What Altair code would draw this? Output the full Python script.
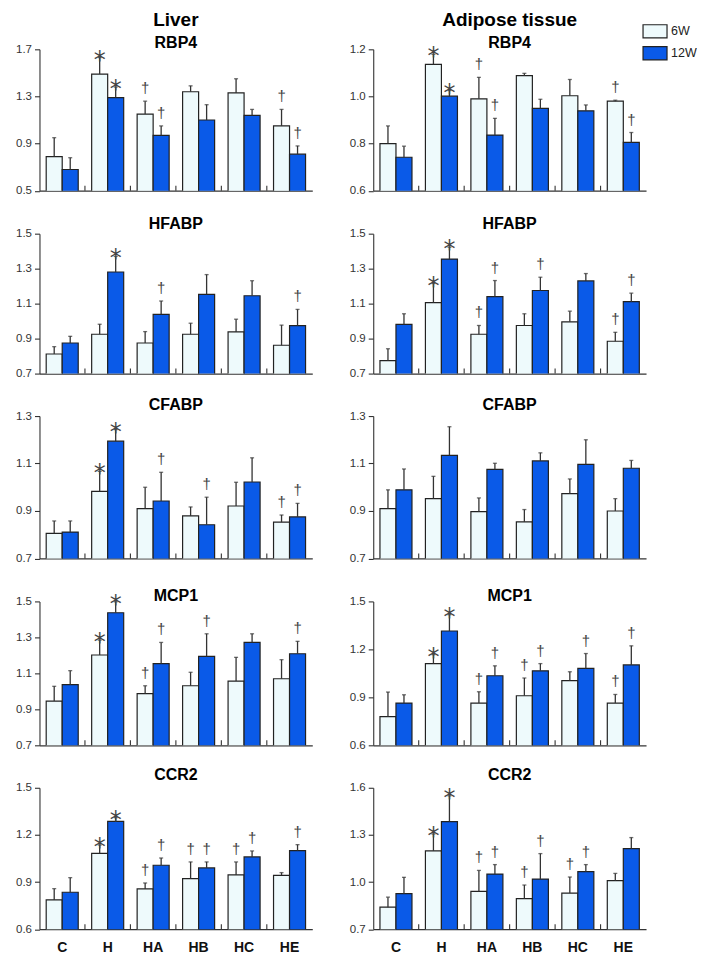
import altair as alt
import pandas as pd

FONT = "Liberation Sans"
groups = ["C", "H", "HA", "HB", "HC", "HE"]
weeks = ["6W", "12W"]
tissues = ["Liver", "Adipose tissue"]
fill_colors = ["#eefafc", "#0a5ae8"]

# ---- Liver ----
liver_rbp4_m6 = [0.79, 1.49, 1.15, 1.34, 1.33, 1.05]
liver_rbp4_e6 = [0.16, 0.14, 0.11, 0.05, 0.12, 0.14]
liver_rbp4_s6 = ["", "*", "†", "", "", "†"]
liver_rbp4_m12 = [0.68, 1.29, 0.97, 1.10, 1.14, 0.81]
liver_rbp4_e12 = [0.10, 0.09, 0.08, 0.13, 0.05, 0.07]
liver_rbp4_s12 = ["", "*", "†", "", "", "†"]

liver_hfabp_m6 = [0.812, 0.925, 0.875, 0.925, 0.938, 0.862]
liver_hfabp_e6 = [0.042, 0.057, 0.065, 0.063, 0.073, 0.115]
liver_hfabp_s6 = ["", "", "", "", "", ""]
liver_hfabp_m12 = [0.875, 1.281, 1.039, 1.153, 1.145, 0.974]
liver_hfabp_e12 = [0.038, 0.089, 0.076, 0.113, 0.086, 0.093]
liver_hfabp_s12 = ["", "*", "†", "", "", "†"]

liver_cfabp_m6 = [0.806, 0.983, 0.910, 0.879, 0.921, 0.853]
liver_cfabp_e6 = [0.052, 0.084, 0.090, 0.038, 0.100, 0.030]
liver_cfabp_s6 = ["", "*", "", "", "", "†"]
liver_cfabp_m12 = [0.811, 1.194, 0.942, 0.842, 1.022, 0.875]
liver_cfabp_e12 = [0.047, 0.049, 0.121, 0.116, 0.102, 0.057]
liver_cfabp_s12 = ["", "*", "†", "†", "", "†"]

liver_mcp1_m6 = [0.946, 1.202, 0.987, 1.031, 1.057, 1.070]
liver_mcp1_e6 = [0.082, 0.083, 0.044, 0.075, 0.132, 0.106]
liver_mcp1_s6 = ["", "*", "†", "", "", ""]
liver_mcp1_m12 = [1.037, 1.437, 1.154, 1.194, 1.272, 1.209]
liver_mcp1_e12 = [0.078, 0.061, 0.118, 0.126, 0.048, 0.069]
liver_mcp1_s12 = ["", "*", "†", "†", "", "†"]

liver_ccr2_m6 = [0.786, 1.083, 0.856, 0.922, 0.945, 0.943]
liver_ccr2_e6 = [0.072, 0.053, 0.038, 0.106, 0.083, 0.017]
liver_ccr2_s6 = ["", "*", "†", "†", "†", ""]
liver_ccr2_m12 = [0.835, 1.286, 1.007, 0.990, 1.060, 1.100]
liver_ccr2_e12 = [0.093, 0.024, 0.046, 0.038, 0.038, 0.038]
liver_ccr2_s12 = ["", "*", "†", "†", "†", "†"]

# ---- Adipose tissue ----
adip_rbp4_m6 = [0.800, 1.136, 0.990, 1.088, 1.003, 0.980]
adip_rbp4_e6 = [0.075, 0.043, 0.091, 0.010, 0.069, 0.004]
adip_rbp4_s6 = ["", "*", "†", "", "", "†"]
adip_rbp4_m12 = [0.742, 1.001, 0.836, 0.949, 0.939, 0.805]
adip_rbp4_e12 = [0.047, 0.024, 0.071, 0.039, 0.025, 0.042]
adip_rbp4_s12 = ["", "*", "†", "", "", "†"]

adip_hfabp_m6 = [0.774, 1.106, 0.925, 0.975, 0.996, 0.885]
adip_hfabp_e6 = [0.068, 0.109, 0.050, 0.067, 0.061, 0.051]
adip_hfabp_s6 = ["", "*", "†", "", "", "†"]
adip_hfabp_m12 = [0.981, 1.355, 1.140, 1.175, 1.230, 1.111]
adip_hfabp_e12 = [0.061, 0.068, 0.092, 0.076, 0.042, 0.049]
adip_hfabp_s12 = ["", "*", "†", "†", "", "†"]

adip_cfabp_m6 = [0.910, 0.952, 0.897, 0.854, 0.973, 0.900]
adip_cfabp_e6 = [0.079, 0.094, 0.058, 0.052, 0.062, 0.052]
adip_cfabp_s6 = ["", "", "", "", "", ""]
adip_cfabp_m12 = [0.989, 1.134, 1.075, 1.111, 1.096, 1.080]
adip_cfabp_e12 = [0.088, 0.121, 0.026, 0.034, 0.104, 0.033]
adip_cfabp_s12 = ["", "", "", "", "", ""]

adip_mcp1_m6 = [0.779, 1.111, 0.864, 0.910, 1.004, 0.864]
adip_mcp1_e6 = [0.154, 0.056, 0.071, 0.111, 0.056, 0.054]
adip_mcp1_s6 = ["", "*", "†", "†", "", "†"]
adip_mcp1_m12 = [0.864, 1.315, 1.035, 1.066, 1.081, 1.103]
adip_mcp1_e12 = [0.052, 0.102, 0.062, 0.045, 0.093, 0.119]
adip_mcp1_s12 = ["", "*", "†", "†", "†", "†"]

adip_ccr2_m6 = [0.840, 1.198, 0.940, 0.894, 0.930, 1.009]
adip_ccr2_e6 = [0.064, 0.108, 0.134, 0.087, 0.102, 0.046]
adip_ccr2_s6 = ["", "*", "†", "†", "†", ""]
adip_ccr2_m12 = [0.926, 1.385, 1.051, 1.019, 1.066, 1.213]
adip_ccr2_e12 = [0.104, 0.164, 0.060, 0.162, 0.045, 0.070]
adip_ccr2_s12 = ["", "*", "†", "†", "†", ""]

# axis domains / ticks
liver_domains = {
    "RBP4": ([0.5, 1.7], [0.5, 0.9, 1.3, 1.7]),
    "HFABP": ([0.7, 1.5], [0.7, 0.9, 1.1, 1.3, 1.5]),
    "CFABP": ([0.7, 1.3], [0.7, 0.9, 1.1, 1.3]),
    "MCP1": ([0.7, 1.5], [0.7, 0.9, 1.1, 1.3, 1.5]),
    "CCR2": ([0.6, 1.5], [0.6, 0.9, 1.2, 1.5]),
}
adip_domains = {
    "RBP4": ([0.6, 1.2], [0.6, 0.8, 1.0, 1.2]),
    "HFABP": ([0.7, 1.5], [0.7, 0.9, 1.1, 1.3, 1.5]),
    "CFABP": ([0.7, 1.3], [0.7, 0.9, 1.1, 1.3]),
    "MCP1": ([0.6, 1.5], [0.6, 0.9, 1.2, 1.5]),
    "CCR2": ([0.7, 1.6], [0.7, 1.0, 1.3, 1.6]),
}

genes = ["RBP4", "HFABP", "CFABP", "MCP1", "CCR2"]
liver_data = {
    "RBP4": (liver_rbp4_m6, liver_rbp4_e6, liver_rbp4_s6, liver_rbp4_m12, liver_rbp4_e12, liver_rbp4_s12),
    "HFABP": (liver_hfabp_m6, liver_hfabp_e6, liver_hfabp_s6, liver_hfabp_m12, liver_hfabp_e12, liver_hfabp_s12),
    "CFABP": (liver_cfabp_m6, liver_cfabp_e6, liver_cfabp_s6, liver_cfabp_m12, liver_cfabp_e12, liver_cfabp_s12),
    "MCP1": (liver_mcp1_m6, liver_mcp1_e6, liver_mcp1_s6, liver_mcp1_m12, liver_mcp1_e12, liver_mcp1_s12),
    "CCR2": (liver_ccr2_m6, liver_ccr2_e6, liver_ccr2_s6, liver_ccr2_m12, liver_ccr2_e12, liver_ccr2_s12),
}
adip_data = {
    "RBP4": (adip_rbp4_m6, adip_rbp4_e6, adip_rbp4_s6, adip_rbp4_m12, adip_rbp4_e12, adip_rbp4_s12),
    "HFABP": (adip_hfabp_m6, adip_hfabp_e6, adip_hfabp_s6, adip_hfabp_m12, adip_hfabp_e12, adip_hfabp_s12),
    "CFABP": (adip_cfabp_m6, adip_cfabp_e6, adip_cfabp_s6, adip_cfabp_m12, adip_cfabp_e12, adip_cfabp_s12),
    "MCP1": (adip_mcp1_m6, adip_mcp1_e6, adip_mcp1_s6, adip_mcp1_m12, adip_mcp1_e12, adip_mcp1_s12),
    "CCR2": (adip_ccr2_m6, adip_ccr2_e6, adip_ccr2_s6, adip_ccr2_m12, adip_ccr2_e12, adip_ccr2_s12),
}

row_heights = [141.5, 140, 142.5, 144, 141.5]
title_baselines = [-1, -5, -6, 0, -8]   # gene title baseline, px above plot top
W = 273


def make_panel(tissue, gene, arrays, dom, row_idx):
    m6, e6, s6, m12, e12, s12 = arrays
    domain, ticks = dom
    rows = []
    for i, g in enumerate(groups):
        rows.append(dict(group=g, week="6W", mean=m6[i], top=m6[i] + e6[i], sig=s6[i]))
        rows.append(dict(group=g, week="12W", mean=m12[i], top=m12[i] + e12[i], sig=s12[i]))
    df = pd.DataFrame(rows)
    H = row_heights[row_idx]
    last = row_idx == len(genes) - 1

    x_axis = alt.Axis(
        title=None, labels=last, ticks=False, domain=True, domainColor="#333",
        domainWidth=1.2, labelFontSize=14, labelFontWeight="bold", labelFont=FONT,
        labelColor="#111", labelPadding=11.5, labelAngle=0,
    )
    x_enc = alt.X("group:N", sort=groups, axis=x_axis,
                  scale=alt.Scale(paddingInner=0, paddingOuter=0))
    xo = alt.XOffset("week:N", sort=weeks,
                     scale=alt.Scale(domain=weeks, paddingInner=0, paddingOuter=0.42))
    y_axis = alt.Axis(
        title=None, values=ticks, format=".1f", grid=False, domainColor="#333",
        domainWidth=1.1, tickColor="#333", tickSize=5, tickWidth=1.1,
        labelFontSize=11.5, labelFont=FONT, labelColor="#333", labelPadding=3,
    )
    y_scale = alt.Scale(domain=domain, nice=False, zero=False)
    color = alt.Color(
        "week:N", sort=weeks,
        scale=alt.Scale(domain=weeks, range=fill_colors),
        legend=alt.Legend(
            title=None, orient="none", legendX=603, legendY=-31,
            symbolType="M-1,-0.55H1V0.55H-1Z", symbolSize=576,
            symbolStrokeColor="#222", symbolStrokeWidth=1.2, symbolOpacity=1,
            labelFontSize=12.5, labelFont=FONT, labelColor="#222", labelOffset=3,
            rowPadding=0, padding=0,
            labelExpr="datum.label == '6W' ? '\u20076W' : datum.label",
        ),
    )
    base = alt.Chart(df)
    bars = base.mark_bar(stroke="#222", strokeWidth=1.2, clip=True).encode(
        x=x_enc, xOffset=xo,
        y=alt.Y("mean:Q", scale=y_scale, axis=y_axis),
        color=color,
    )
    err = base.mark_rule(color="#333", strokeWidth=1.3).encode(
        x=x_enc, xOffset=xo,
        y=alt.Y("mean:Q", scale=y_scale, axis=y_axis), y2="top:Q",
    )
    cap = base.mark_tick(color="#333", thickness=1.3, size=4).encode(
        x=x_enc, xOffset=xo,
        y=alt.Y("top:Q", scale=y_scale, axis=y_axis),
    )
    stars = base.transform_filter("datum.sig == '*'").mark_text(
        font="DejaVu Sans", fontSize=24, color="#444", baseline="alphabetic", dy=10
    ).encode(x=x_enc, xOffset=xo, y=alt.Y("top:Q", scale=y_scale, axis=y_axis), text="sig:N")
    daggers = base.transform_filter("datum.sig == '†'").mark_text(
        font=FONT, fontSize=15, color="#444", baseline="alphabetic", dy=-8
    ).encode(x=x_enc, xOffset=xo, y=alt.Y("top:Q", scale=y_scale, axis=y_axis), text="sig:N")
    seps = base.transform_filter("datum.week == '6W' && datum.group != 'C'").mark_rule(
        color="#333", strokeWidth=1.1
    ).encode(
        x=alt.X("group:N", sort=groups, axis=x_axis, bandPosition=0,
                scale=alt.Scale(paddingInner=0, paddingOuter=0)),
        y=alt.value(H - 5), y2=alt.value(H),
    )
    gene_title = alt.Chart(pd.DataFrame({"gene": [gene]})).mark_text(
        font=FONT, fontSize=16, fontWeight="bold", color="#000",
        baseline="alphabetic", align="center",
    ).encode(text="gene:N", x=alt.value(W / 2), y=alt.value(title_baselines[row_idx]))
    layers = [bars, err, cap, seps, stars, daggers, gene_title]
    if row_idx == 0:
        head = alt.Chart(pd.DataFrame({"tissue": [tissue]})).mark_text(
            font=FONT, fontSize=19, fontWeight="bold", color="#000",
            baseline="alphabetic", align="center",
        ).encode(text="tissue:N", x=alt.value(W / 2), y=alt.value(-23))
        layers.append(head)
    return alt.layer(*layers).properties(width=W, height=H)


panels = []
for r, gene in enumerate(genes):
    panels.append(make_panel(tissues[0], gene, liver_data[gene], liver_domains[gene], r))
    panels.append(make_panel(tissues[1], gene, adip_data[gene], adip_domains[gene], r))

chart = alt.concat(
    *panels, columns=2, spacing={"row": 42.5, "column": 61}, bounds="flush"
).properties(
    padding={"left": 7.5, "top": 3, "right": 0, "bottom": 0}
).configure_view(stroke=None)

chart.save("out.html", embed_options={"renderer": "svg", "actions": False})
